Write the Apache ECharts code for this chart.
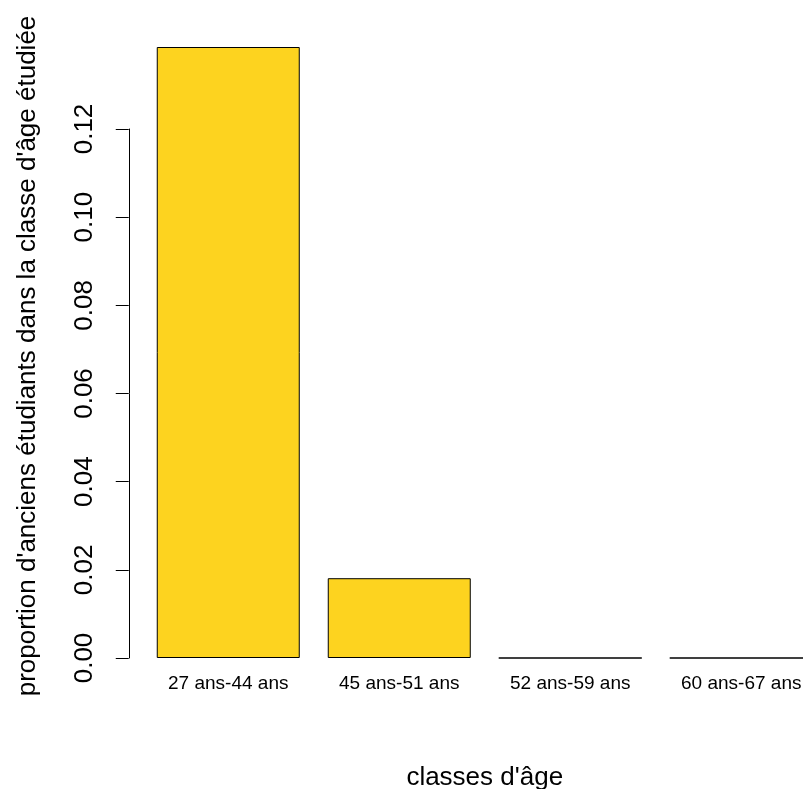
<!DOCTYPE html>
<html>
<head>
<meta charset="utf-8">
<script src="https://cdn.jsdelivr.net/npm/echarts@6/dist/echarts.min.js"></script>
<style>html,body{margin:0;padding:0;background:#fff;}#c{width:803px;height:789px;}</style>
</head>
<body>
<div id="c"></div>
<script>
const categories = ['27 ans-44 ans', '45 ans-51 ans', '52 ans-59 ans', '60 ans-67 ans'];
const proportions = [0.1386, 0.0181, 0, 0];
const yTicks = [0, 0.02, 0.04, 0.06, 0.08, 0.10, 0.12];
const yTitle = "proportion d'anciens étudiants dans la classe d'âge étudiée";
const xTitle = "classes d'âge";

const FONT = 'Liberation Sans, Arial, Helvetica, sans-serif';
const chart = echarts.init(document.getElementById('c'), null, {renderer: 'canvas'});
chart.setOption({
  animation: false,
  backgroundColor: '#ffffff',
  grid: [
    {left: 142.75, right: -23.75, top: 40.83, bottom: 131, containLabel: false, outerBoundsMode: 'none'},
    {left: 142.75, right: -23.75, top: 129, bottom: 131, containLabel: false, outerBoundsMode: 'none'}
  ],
  xAxis: [
    {
      type: 'category', gridIndex: 0, data: categories,
      axisLine: {show: false}, axisTick: {show: false},
      axisLabel: {fontFamily: FONT, fontSize: 19, color: '#000', margin: 16, interval: 0},
      name: xTitle, nameLocation: 'middle', nameGap: 107,
      nameTextStyle: {fontFamily: FONT, fontSize: 26, color: '#000'}
    },
    {
      type: 'category', gridIndex: 1, data: categories, show: false
    }
  ],
  yAxis: [
    {
      type: 'value', gridIndex: 0, min: 0, max: 0.14, show: false
    },
    {
      type: 'value', gridIndex: 1, min: 0, max: 0.12, interval: 0.02, offset: 14,
      axisLine: {show: true, lineStyle: {color: '#000', width: 1}},
      axisTick: {show: true, length: 13, lineStyle: {color: '#000', width: 1}},
      splitLine: {show: false},
      axisLabel: {
        rotate: 90, fontFamily: FONT, fontSize: 26, color: '#000', margin: 31,
        customValues: yTicks,
        formatter: v => v.toFixed(2)
      }
    }
  ],
  graphic: [{
    type: 'text', x: 28, y: 356, rotation: Math.PI / 2,
    style: {text: yTitle, fontFamily: FONT, fontSize: 26, fill: '#000', align: 'center', verticalAlign: 'middle'}
  }],
  series: [{
    type: 'bar', xAxisIndex: 0, yAxisIndex: 0, data: proportions,
    barWidth: 143,
    itemStyle: {color: '#FDD31F', borderColor: '#000', borderWidth: 1}
  }]
});
</script>
</body>
</html>
